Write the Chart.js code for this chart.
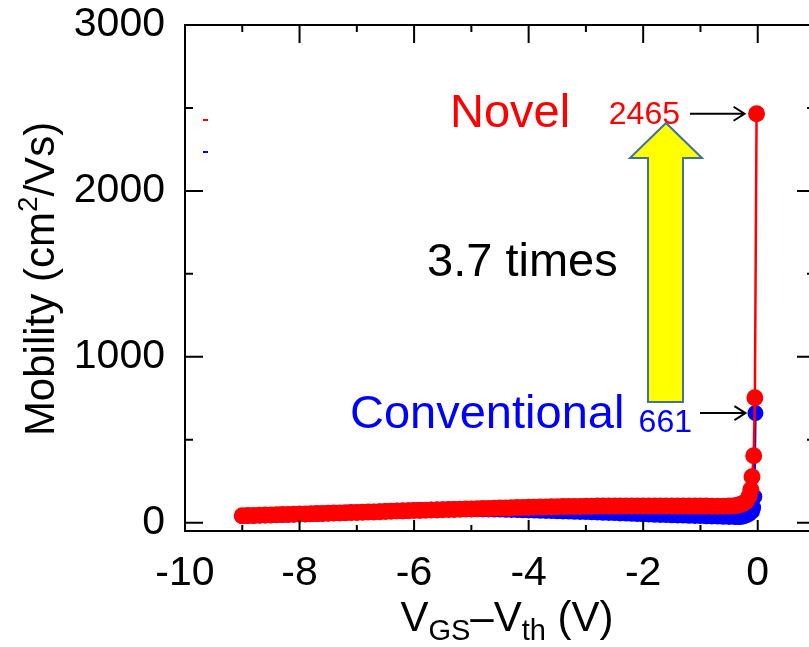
<!DOCTYPE html>
<html>
<head>
<meta charset="utf-8">
<script src="https://cdn.jsdelivr.net/npm/chart.js@4.4.1/dist/chart.umd.min.js"></script>
<style>
  body { margin: 0; background: #fff; overflow: hidden; }
</style>
</head>
<body>
<canvas id="myChart" width="830" height="647"></canvas>
<script>
// Novel device (red), gate overdrive in V and mobility in cm2/Vs
const novelV = [
  -9.0, -8.9, -8.8, -8.7, -8.6, -8.5, -8.4, -8.3, -8.2, -8.1,
  -8.0, -7.9, -7.8, -7.7, -7.6, -7.5, -7.4, -7.3, -7.2, -7.1,
  -7.0, -6.9, -6.8, -6.7, -6.6, -6.5, -6.4, -6.3, -6.2, -6.1,
  -6.0, -5.9, -5.8, -5.7, -5.6, -5.5, -5.4, -5.3, -5.2, -5.1,
  -5.0, -4.9, -4.8, -4.7, -4.6, -4.5, -4.4, -4.3, -4.2, -4.1,
  -4.0, -3.9, -3.8, -3.7, -3.6, -3.5, -3.4, -3.3, -3.2, -3.1,
  -3.0, -2.9, -2.8, -2.7, -2.6, -2.5, -2.4, -2.3, -2.2, -2.1,
  -2.0, -1.9, -1.8, -1.7, -1.6, -1.5, -1.4, -1.3, -1.2, -1.1,
  -1.0, -0.9, -0.8, -0.7, -0.6, -0.5, -0.4, -0.35, -0.3, -0.25,
  -0.2, -0.15, -0.12, -0.1, -0.07, -0.05, -0.02
];
const novelMu = [
  42, 43, 44, 45, 46, 47, 48, 49, 50, 51,
  52, 53, 54, 55, 56, 57, 58, 59, 60, 61,
  62, 63, 64, 65, 66, 68, 69, 70, 71, 72,
  73, 74, 75, 76, 77, 78, 79, 80, 81, 82,
  83, 84, 85, 86, 87, 88, 89, 90, 91, 92,
  93, 93, 94, 95, 96, 96, 97, 97, 98, 98,
  99, 99, 100, 100, 100, 100, 101, 101, 101, 101,
  101, 101, 101, 101, 101, 101, 100, 100, 100, 100,
  100, 100, 99, 99, 99, 100, 102, 105, 110, 118,
  130, 160, 200, 277, 404, 753, 2465
];

// Conventional device (blue)
const convV = [
  -9.0, -8.9, -8.8, -8.7, -8.6, -8.5, -8.4, -8.3, -8.2, -8.1,
  -8.0, -7.9, -7.8, -7.7, -7.6, -7.5, -7.4, -7.3, -7.2, -7.1,
  -7.0, -6.9, -6.8, -6.7, -6.6, -6.5, -6.4, -6.3, -6.2, -6.1,
  -6.0, -5.9, -5.8, -5.7, -5.6, -5.5, -5.4, -5.3, -5.2, -5.1,
  -5.0, -4.9, -4.8, -4.7, -4.6, -4.5, -4.4, -4.3, -4.2, -4.1,
  -4.0, -3.9, -3.8, -3.7, -3.6, -3.5, -3.4, -3.3, -3.2, -3.1,
  -3.0, -2.9, -2.8, -2.7, -2.6, -2.5, -2.4, -2.3, -2.2, -2.1,
  -2.0, -1.9, -1.8, -1.7, -1.6, -1.5, -1.4, -1.3, -1.2, -1.1,
  -1.0, -0.9, -0.8, -0.7, -0.6, -0.5, -0.4, -0.35, -0.3, -0.25,
  -0.2, -0.15, -0.1, -0.08, -0.06, -0.04
];
const convMu = [
  40, 41, 42, 43, 44, 45, 46, 47, 48, 49,
  50, 51, 52, 53, 54, 56, 57, 58, 59, 61,
  62, 63, 65, 66, 68, 69, 71, 72, 73, 74,
  75, 76, 77, 78, 79, 80, 80, 81, 81, 81,
  81, 81, 80, 80, 79, 79, 78, 77, 76, 75,
  74, 73, 72, 71, 70, 69, 68, 67, 66, 65,
  64, 63, 62, 60, 59, 58, 56, 55, 54, 52,
  51, 50, 48, 47, 46, 45, 44, 43, 42, 41,
  40, 39, 38, 37, 36, 35, 34, 34, 35, 38,
  44, 54, 68, 90, 157, 661
];

const xTicks = [-10, -8, -6, -4, -2, 0];
const yTicks = [0, 1000, 2000, 3000];
const xMinorStep = 1;
const yMinorStep = 500;

const FONT = "'Liberation Sans', Arial, sans-serif";

function toPoints(xs, ys) {
  return xs.map((v, i) => ({ x: v, y: ys[i] }));
}

function richWidth(ctx, parts) {
  let w = 0;
  for (const p of parts) {
    ctx.font = p.size + "px " + FONT;
    w += ctx.measureText(p.t).width;
  }
  return w;
}

function drawRich(ctx, parts, x, y) {
  for (const p of parts) {
    ctx.font = p.size + "px " + FONT;
    ctx.fillText(p.t, x, y + (p.dy || 0));
    x += ctx.measureText(p.t).width;
  }
}

function lineArrow(ctx, x1, y1, x2, y2) {
  ctx.beginPath();
  ctx.moveTo(x1, y1);
  ctx.lineTo(x2, y2);
  ctx.moveTo(x2 - 11, y2 - 7);
  ctx.lineTo(x2, y2);
  ctx.lineTo(x2 - 11, y2 + 7);
  ctx.stroke();
}

// frame with inward ticks on all four sides
const frameTicks = {
  id: "frameTicks",
  afterDatasetsDraw(chart) {
    const { ctx, chartArea: a, scales } = chart;
    const x = scales.x, y = scales.y;
    ctx.save();
    ctx.strokeStyle = "#000";
    ctx.lineWidth = 2;
    ctx.strokeRect(a.left, a.top, a.right - a.left, a.bottom - a.top);
    ctx.beginPath();
    for (let v = x.min; v <= x.max; v += xMinorStep) {
      const px = x.getPixelForValue(v);
      const major = xTicks.includes(v);
      ctx.moveTo(px, a.bottom);
      ctx.lineTo(px, a.bottom - (major ? 11 : 6));
      ctx.moveTo(px, a.top);
      ctx.lineTo(px, a.top + (major ? 18 : 7));
    }
    for (let v = 0; v <= y.max; v += yMinorStep) {
      const py = y.getPixelForValue(v);
      const len = yTicks.includes(v) ? 18 : 8;
      ctx.moveTo(a.left, py);
      ctx.lineTo(a.left + len, py);
      ctx.moveTo(a.right, py);
      ctx.lineTo(a.right - len, py);
    }
    ctx.stroke();

    // leftover legend line samples
    ctx.lineWidth = 2;
    ctx.strokeStyle = "#ff0000";
    ctx.beginPath();
    ctx.moveTo(a.left + 18, 120);
    ctx.lineTo(a.left + 23, 120);
    ctx.stroke();
    ctx.strokeStyle = "#0000ff";
    ctx.beginPath();
    ctx.moveTo(a.left + 18, 152);
    ctx.lineTo(a.left + 23, 152);
    ctx.stroke();
    ctx.restore();
  },
  afterDraw(chart) {
    const { ctx, scales } = chart;
    const x = scales.x, y = scales.y;
    ctx.save();
    ctx.fillStyle = "#000";
    ctx.textBaseline = "alphabetic";

    // axis titles
    const xt = [
      { t: "V", size: 42 },
      { t: "GS", size: 29, dy: 9 },
      { t: "\u2013V", size: 42 },
      { t: "th", size: 29, dy: 9 },
      { t: " (V)", size: 42 }
    ];
    drawRich(ctx, xt, 507 - richWidth(ctx, xt) / 2, 631);

    const yt = [
      { t: "Mobility (cm", size: 42 },
      { t: "2", size: 28, dy: -17 },
      { t: "/Vs)", size: 42 }
    ];
    ctx.save();
    ctx.translate(54, 279);
    ctx.rotate(-Math.PI / 2);
    drawRich(ctx, yt, -richWidth(ctx, yt) / 2, 0);
    ctx.restore();

    // peak values and pointer arrows
    const nIdx = novelMu.length - 1;
    const cIdx = convMu.length - 1;
    const nx = x.getPixelForValue(novelV[nIdx]);
    const ny = y.getPixelForValue(novelMu[nIdx]);
    const cx = x.getPixelForValue(convV[cIdx]);
    const cy = y.getPixelForValue(convMu[cIdx]);

    ctx.textBaseline = "middle";
    ctx.textAlign = "right";
    ctx.fillStyle = "#ff0000";
    ctx.font = "32px " + FONT;
    ctx.fillText(String(novelMu[nIdx]), 680, ny + 1);
    ctx.fillStyle = "#0000ff";
    ctx.fillText(String(convMu[cIdx]), 692, cy + 10);

    ctx.strokeStyle = "#000";
    ctx.lineWidth = 2;
    lineArrow(ctx, 690, ny, nx - 12, ny);
    lineArrow(ctx, 700, cy, cx - 10, cy);

    // series names and ratio
    ctx.textAlign = "left";
    ctx.font = "47px " + FONT;
    ctx.fillStyle = "#ff0000";
    ctx.fillText("Novel", 450, 114);
    ctx.fillStyle = "#0000ff";
    ctx.fillText("Conventional", 350, 415);
    ctx.fillStyle = "#000";
    ctx.fillText("3.7 times", 427, 263);

    // yellow block arrow
    ctx.beginPath();
    ctx.moveTo(648, 402);
    ctx.lineTo(683, 402);
    ctx.lineTo(683, 158);
    ctx.lineTo(702, 158);
    ctx.lineTo(666, 123);
    ctx.lineTo(630, 158);
    ctx.lineTo(648, 158);
    ctx.closePath();
    ctx.fillStyle = "#ffff00";
    ctx.fill();
    ctx.strokeStyle = "#41719c";
    ctx.lineWidth = 2;
    ctx.stroke();
    ctx.restore();
  }
};

const ctx = document.getElementById("myChart").getContext("2d");
const myChart = new Chart(ctx, {
  type: "scatter",
  data: {
    datasets: [
      {
        label: "Novel",
        data: toPoints(novelV, novelMu),
        showLine: true,
        borderColor: "#ff0000",
        backgroundColor: "#ff0000",
        borderWidth: 2.5,
        pointRadius: 8.5,
        pointBorderWidth: 0,
        pointHoverRadius: 8.5
      },
      {
        label: "Conventional",
        data: toPoints(convV, convMu),
        showLine: true,
        borderColor: "#0000ff",
        backgroundColor: "#0000ff",
        borderWidth: 2.5,
        pointRadius: 8,
        pointBorderWidth: 0,
        pointHoverRadius: 8
      }
    ]
  },
  options: {
    responsive: false,
    animation: false,
    events: [],
    layout: { padding: { top: 25, right: 15, left: 0, bottom: 0 } },
    plugins: {
      legend: { display: false },
      tooltip: { enabled: false }
    },
    scales: {
      x: {
        type: "linear",
        min: -10,
        max: 1,
        afterBuildTicks: (scale) => {
          scale.ticks = xTicks.map((v) => ({ value: v }));
        },
        afterFit: (scale) => {
          scale.height = 116;
        },
        grid: { display: false, drawTicks: false },
        border: { display: false },
        ticks: {
          color: "#000",
          padding: 18,
          maxRotation: 0,
          callback: (v) => String(v),
          font: { family: FONT, size: 41 }
        }
      },
      y: {
        type: "linear",
        min: -50,
        max: 3000,
        afterBuildTicks: (scale) => {
          scale.ticks = yTicks.map((v) => ({ value: v }));
        },
        afterFit: (scale) => {
          scale.width = 185;
        },
        grid: { display: false, drawTicks: false },
        border: { display: false },
        ticks: {
          color: "#000",
          padding: 20,
          callback: (v) => String(v),
          font: { family: FONT, size: 41, lineHeight: 0.2 }
        }
      }
    }
  },
  plugins: [frameTicks]
});
</script>
</body>
</html>
